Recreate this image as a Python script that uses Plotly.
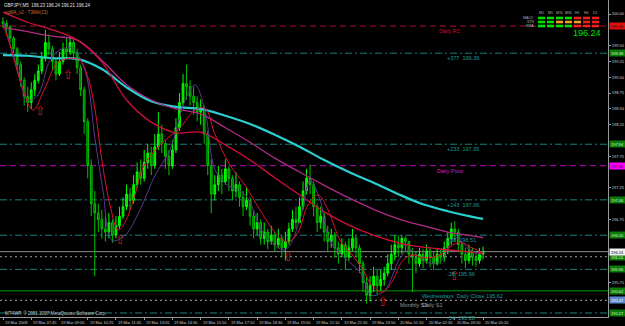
import plotly.graph_objects as go

# ---------------- data ----------------
header_text = "GBPJPY,M5  196.23 196.24 196.21 196.24"
indicator_text = "sqMA_v2 - T3MA(13)"
copyright_text = "MT4WP, \u00a9 2001-2007 MetaQuotes Software Corp."
last_price = 196.24

first_open = 199.88
closes = [199.85, 199.80, 199.62, 199.45, 199.20, 198.95, 198.70, 198.60, 198.80, 198.95,
          199.10, 199.30, 199.55, 199.45, 199.25, 199.05, 199.25, 199.45, 199.40, 199.55,
          199.38, 199.15, 198.80, 198.30, 197.60, 197.00, 196.85, 196.75, 196.60, 196.55,
          196.70, 196.50, 196.65, 196.80, 196.95, 197.15, 197.05, 197.30, 197.50, 197.40,
          197.65, 197.80, 197.60, 197.90, 198.10, 197.95, 197.75, 197.60, 197.85, 198.20,
          198.60, 198.90, 198.85, 198.70, 198.60, 198.45, 198.50, 198.10, 197.60, 197.15,
          197.30, 197.45, 197.35, 197.55, 197.40, 197.20, 197.30, 197.10, 196.95, 197.05,
          196.80, 196.60, 196.70, 196.45, 196.55, 196.40, 196.50, 196.35, 196.45, 196.30,
          196.40, 196.60, 196.75, 196.70, 196.95, 197.20, 197.40, 197.30, 196.95, 196.70,
          196.80, 196.55, 196.40, 196.50, 196.30, 196.20, 196.35, 196.15, 196.30, 196.45,
          196.30, 196.05, 195.75, 195.55, 195.70, 195.85, 195.70, 195.80, 195.90, 196.05,
          196.20, 196.35, 196.30, 196.45, 196.40, 196.20, 196.15, 196.05, 196.20, 196.10,
          196.25, 196.15, 196.05, 196.20, 196.15, 196.30, 196.45, 196.60, 196.55, 196.35,
          196.20, 196.10, 196.25, 196.15, 196.10, 196.20, 196.24]
highs = [199.95, 199.90, 199.82, 199.65, 199.48, 199.25, 199.00, 198.85, 198.92, 199.05,
         199.20, 199.40, 199.75, 199.68, 199.50, 199.30, 199.40, 199.55, 199.62, 199.65,
         199.60, 199.45, 199.20, 198.85, 198.35, 197.70, 197.20, 197.00, 196.90, 196.80,
         196.85, 196.75, 196.80, 196.95, 197.10, 197.30, 197.25, 197.45, 197.65, 197.70,
         197.85, 197.95, 197.90, 198.10, 198.45, 198.25, 198.00, 197.85, 198.00, 198.35,
         198.75, 199.05, 199.20, 198.95, 198.85, 198.70, 198.65, 198.55, 198.15, 197.70,
         197.45, 197.60, 197.55, 197.70, 197.60, 197.45, 197.50, 197.35, 197.20, 197.25,
         197.10, 196.90, 196.85, 196.75, 196.70, 196.60, 196.65, 196.55, 196.60, 196.50,
         196.55, 196.70, 196.90, 196.95, 197.10, 197.35, 197.55, 197.62, 197.35, 197.00,
         196.95, 196.85, 196.65, 196.60, 196.55, 196.40, 196.45, 196.40, 196.45, 196.60,
         196.50, 196.35, 196.10, 195.85, 195.85, 196.00, 195.95, 195.95, 196.00, 196.20,
         196.35, 196.50, 196.50, 196.50, 196.48, 196.40, 196.30, 196.25, 196.30, 196.28,
         196.35, 196.30, 196.25, 196.30, 196.28, 196.40, 196.55, 196.70, 196.72, 196.60,
         196.40, 196.30, 196.35, 196.30, 196.25, 196.30, 196.32]
lows = [199.78, 199.70, 199.55, 199.38, 199.12, 198.85, 198.55, 198.45, 198.50, 198.70,
        198.90, 199.05, 199.25, 199.35, 199.10, 198.95, 199.02, 199.20, 199.30, 199.35,
        199.28, 199.05, 198.70, 198.10, 197.40, 196.80, 195.85, 196.55, 196.45, 196.40,
        196.45, 196.38, 196.45, 196.60, 196.75, 196.90, 196.90, 197.00, 197.25, 197.30,
        197.35, 197.55, 197.45, 197.55, 197.85, 197.80, 197.55, 197.45, 197.55, 197.80,
        198.15, 198.55, 198.65, 198.55, 198.40, 198.30, 198.25, 197.95, 197.45, 196.85,
        197.05, 197.20, 197.15, 197.30, 197.20, 197.05, 197.10, 196.95, 196.80, 196.90,
        196.65, 196.45, 196.50, 196.35, 196.35, 196.28, 196.35, 196.25, 196.30, 196.15,
        196.10, 196.35, 196.55, 196.60, 196.70, 196.90, 197.15, 197.15, 196.80, 196.55,
        196.60, 196.40, 196.25, 196.30, 196.15, 196.05, 196.15, 195.95, 196.10, 196.25,
        196.15, 195.90, 195.60, 195.42, 195.45, 195.60, 195.55, 195.62, 195.70, 195.85,
        195.95, 196.10, 196.15, 196.20, 196.25, 196.05, 195.60, 195.90, 196.00, 195.98,
        196.05, 196.00, 195.95, 196.02, 196.05, 196.08, 196.20, 196.35, 196.40, 196.25,
        196.05, 195.98, 196.05, 196.02, 196.00, 196.05, 196.12]
opens = [first_open] + closes[:-1]
bars = list(range(len(closes)))

time_labels = ["19 Mar 2008", "19 Mar 07:45", "19 Mar 09:05", "19 Mar 10:25", "19 Mar 11:45",
               "19 Mar 13:05", "19 Mar 14:30", "19 Mar 15:50", "19 Mar 17:10", "19 Mar 18:30",
               "19 Mar 19:50", "19 Mar 21:10", "19 Mar 22:30", "19 Mar 23:50", "20 Mar 01:10",
               "20 Mar 02:30", "20 Mar 03:50", "20 Mar 05:10"]
time_label_bars = [0, 8, 16, 24, 32, 40, 48, 56, 64, 72, 80, 88, 96, 104, 112, 120, 128, 136]
price_ticks = [200.00, 199.75, 199.50, 199.25, 199.00, 198.75, 198.50, 198.25, 198.00, 197.75,
               197.50, 197.25, 197.00, 196.75, 196.50, 196.25, 196.00, 195.75, 195.50]

# moving averages read at sample bars
ma_bars = [0, 7, 14, 21, 28, 35, 42, 49, 56, 63, 70, 77, 84, 91, 98, 105, 112, 119, 126, 133, 136]
ma_cyan = [199.35, 199.34, 199.30, 199.29, 199.13, 198.84, 198.62, 198.53, 198.50, 198.39, 198.26,
           198.09, 197.90, 197.69, 197.50, 197.33, 197.15, 196.99, 196.88, 196.79, 196.76]
ma_magenta = [199.79, 199.72, 199.65, 199.59, 199.27, 198.88, 198.64, 198.50, 198.42, 198.20, 197.97,
              197.72, 197.50, 197.29, 197.09, 196.91, 196.76, 196.65, 196.55, 196.49, 196.46]
ma_crimson = [200.03, 199.87, 199.75, 199.59, 199.24, 198.64, 198.29, 198.12, 198.13, 197.93, 197.69,
              197.41, 197.14, 196.87, 196.66, 196.50, 196.38, 196.31, 196.27, 196.23, 196.22]

t3_bars = [0, 2, 4.8, 8.5, 11.9, 15.3, 19, 21.8, 24.1, 26.1, 28, 30.3, 32.6, 34.6, 37.4, 39.7,
           44.5, 50.1, 54.4, 57.2, 60.1, 64.3, 68.6, 72.8, 77, 80.7, 83.6, 86.4, 89.2, 92.1,
           95.5, 98.9, 101.7, 104.5, 107.4, 110.2, 113, 115.9, 119.5, 123.8, 127.2, 130, 132.9, 136]
t3_vals = [199.83, 199.51, 198.96, 198.48, 198.83, 199.22, 199.30, 199.27, 198.99, 198.48, 197.69,
           196.98, 196.58, 196.71, 197.14, 197.58, 197.93, 198.20, 198.48, 198.51, 198.09, 197.61,
           197.29, 196.90, 196.55, 196.39, 196.55, 196.98, 197.14, 196.90, 196.42, 196.19, 195.98,
           195.71, 195.60, 195.76, 196.08, 196.19, 196.14, 196.19, 196.34, 196.38, 196.30, 196.22]

fast_bars = [0, 3.4, 7.1, 9.9, 13.3, 16.1, 19.5, 23.2, 26.1, 28.3, 30.9, 34.6, 38.8, 43.1, 47.3,
             51.6, 54.4, 57.2, 60.1, 63.7, 68.6, 74.2, 79.9, 84.1, 87, 89.8, 92.6, 96.9, 101.1,
             104.5, 108.2, 112.5, 115.3, 119.5, 123.8, 128, 132.3, 136]
fast_vals = [199.91, 199.27, 198.64, 198.72, 199.27, 199.43, 199.46, 199.11, 198.01, 197.22, 196.42,
             196.50, 196.90, 197.45, 197.85, 198.64, 198.88, 198.48, 197.53, 197.29, 197.14, 196.50,
             196.27, 196.74, 197.37, 197.06, 196.42, 196.14, 195.92, 195.55, 195.63, 196.14, 196.27,
             196.08, 196.08, 196.46, 196.27, 196.19]

arrow_bars = [10.5, 18.4, 33.1, 80.7, 107.6, 127.8]
arrow_prices = [198.45, 199.03, 196.42, 196.14, 195.43, 195.84]

level_prices = [199.81, 199.38, 197.94, 197.60, 197.06, 196.50, 196.16, 195.96, 195.62, 195.47, 195.27]
level_kinds = ["r1", "fibo", "fibo", "pivot", "fibo", "fibo", "dot", "fibo", "close", "dots3", "fibo"]
level_texts = ["Daily R1", "+377  199.39", "+233  197.95", "Daily Pivot", "+143  197.06",
               "+58  196.51", "", "-28  195.96", "Wednesdays  Daily Close 195.62", "Monthly S3",
               "-34  195.28"]
extra_level_text = "Daily S1"

tf_names = ["M1", "M5", "M15", "M30", "H1", "H4", "D1"]
sig_names = ["MACD", "STR", "EMA"]
sig_states = [["up", "up", "up", "up", "dn", "dn", "dn"],
              ["up", "up", "fl", "fl", "fl", "dn", "dn"],
              ["up", "up", "up", "up", "dn", "dn", "dn"]]

# ---------------- styles ----------------
PLOT_W, PLOT_H = 608, 317
FONT = "Liberation Sans"
state_col = {"up": "#00e000", "fl": "#f0a020", "dn": "#f02020"}
lvl_style = {
    "r1": dict(color="#b01034", dash="6px,4px", width=1, txt="#c8103a", box="#e01010", boxtxt="#300000"),
    "fibo": dict(color="#1a7f7f", dash="7px,3px,2px,3px", width=1, txt="#1f9a9a", box="#0a7a0a", boxtxt="#d0ffd0"),
    "pivot": dict(color="#c000c0", dash="6px,4px", width=1, txt="#d020c8", box="#ff00ff", boxtxt="#400040"),
    "dot": dict(color="#9a9a9a", dash="2px,3px", width=1, txt="#a0a0a0", box="#0a7a0a", boxtxt="#d0ffd0"),
    "close": dict(color="#00a000", dash="solid", width=1, txt="#1f9a9a", box="#0a7a0a", boxtxt="#d0ffd0"),
    "dots3": dict(color="#a8a8a8", dash="2px,3px", width=1, txt="#9a9a9a", box="#5a8ad0", boxtxt="#ffffff"),
}
lvl_text_bar = {"r1": 123.0, "fibo": 125.3, "pivot": 122.3, "dot": 125.0, "close": 118.2, "dots3": 111.8}


def px_x(px):
    return px / PLOT_W


def px_y(py):
    return 1 - py / PLOT_H


fig = go.Figure()

# levels
shapes = []
annotations = []
box_prices = []
for p, k, t in zip(level_prices, level_kinds, level_texts):
    st = lvl_style[k]
    shapes.append(dict(type="line", xref="paper", x0=0, x1=1, yref="y", y0=p, y1=p,
                       line=dict(color=st["color"], width=st["width"], dash=st["dash"]), layer="below"))
    if t:
        annotations.append(dict(x=lvl_text_bar[k], y=p, xref="x", yref="y", text=t, showarrow=False,
                                xanchor="left", yanchor="top", yshift=0,
                                font=dict(size=5.5, color=st["txt"], family=FONT)))
    annotations.append(dict(x=1, y=p, xref="paper", yref="y", text=f"{p:.2f}", showarrow=False,
                            xanchor="left", yanchor="middle", xshift=1, width=15, height=6,
                            bgcolor=st["box"], borderpad=0,
                            font=dict(size=4, color=st["boxtxt"], family=FONT)))
    box_prices.append(p)
annotations.append(dict(x=118.2, y=level_prices[9], xref="x", yref="y", text=extra_level_text,
                        showarrow=False, xanchor="left", yanchor="top",
                        font=dict(size=5.5, color="#9a9a9a", family=FONT)))
# bid line
shapes.append(dict(type="line", xref="paper", x0=0, x1=1, yref="y", y0=last_price, y1=last_price,
                   line=dict(color="#8a8a8a", width=1), layer="below"))
annotations.append(dict(x=1, y=last_price, xref="paper", yref="y", text=f"{last_price:.2f}",
                        showarrow=False, xanchor="left", yanchor="middle", xshift=1, width=15, height=6,
                        bgcolor="#f0f0f0", borderpad=0, font=dict(size=4, color="#000000", family=FONT)))
box_prices.append(last_price)

# tick labels hidden behind price boxes (as in the terminal)
shown_ticks = [t for t in price_ticks if all(abs(t - b) > 0.1 for b in box_prices)]

# time labels (left-aligned after their tick, as in the terminal)
for b, lab in zip(time_label_bars, time_labels):
    annotations.append(dict(x=b, y=0, xref="x", yref="paper", text=lab, showarrow=False,
                            xanchor="left", yanchor="top", xshift=0, yshift=-1,
                            font=dict(size=4, color="#d0d0d0", family=FONT)))

# candles
fig.add_trace(go.Candlestick(
    x=bars, open=opens, high=highs, low=lows, close=closes,
    increasing=dict(line=dict(color="#00ff00", width=1), fillcolor="#00e000"),
    decreasing=dict(line=dict(color="#00c000", width=1), fillcolor="#006a00"),
    whiskerwidth=0, hoverinfo="skip"))

# indicator lines
fig.add_trace(go.Scatter(x=ma_bars, y=ma_cyan, mode="lines", line=dict(color="#2ad0d0", width=2.2, shape="spline")))
fig.add_trace(go.Scatter(x=ma_bars, y=ma_magenta, mode="lines", line=dict(color="#b02a88", width=1.3, shape="spline")))
fig.add_trace(go.Scatter(x=ma_bars, y=ma_crimson, mode="lines", line=dict(color="#d0103a", width=1.3, shape="spline")))
fig.add_trace(go.Scatter(x=fast_bars, y=fast_vals, mode="lines", line=dict(color="#5a3a8c", width=1, shape="spline")))
fig.add_trace(go.Scatter(x=t3_bars, y=t3_vals, mode="lines", line=dict(color="#e01030", width=1, shape="spline")))

# arrows
fig.add_trace(go.Scatter(x=arrow_bars, y=arrow_prices, mode="text", text=["\u21e7"] * len(arrow_bars),
                         textposition="middle center",
                         textfont=dict(size=13, color="#d01818", family="DejaVu Sans")))

# header texts
annotations.append(dict(x=px_x(2), y=px_y(5), xref="paper", yref="paper", text=header_text, showarrow=False,
                        xanchor="left", yanchor="middle", font=dict(size=4.5, color="#e0e0e0", family=FONT)))
annotations.append(dict(x=px_x(3), y=px_y(13), xref="paper", yref="paper", text=indicator_text, showarrow=False,
                        xanchor="left", yanchor="middle", font=dict(size=4.5, color="#d06a30", family=FONT)))
annotations.append(dict(x=px_x(3), y=px_y(313), xref="paper", yref="paper", text=copyright_text, showarrow=False,
                        xanchor="left", yanchor="middle", font=dict(size=4.5, color="#c8c8c8", family=FONT)))
annotations.append(dict(x=px_x(587), y=px_y(33), xref="paper", yref="paper", text=f"{last_price:.2f}",
                        showarrow=False, xanchor="center", yanchor="middle",
                        font=dict(size=9, color="#00e000", family=FONT)))

# signal panel
col_left = [538, 547, 556, 565, 574, 583, 592]
row_y = [18, 22, 26]
for ci, name in enumerate(tf_names):
    annotations.append(dict(x=px_x(col_left[ci] + 3.5), y=px_y(13.5), xref="paper", yref="paper", text=name,
                            showarrow=False, xanchor="center", yanchor="middle",
                            font=dict(size=3.5, color="#b0b0b0", family=FONT)))
for ri, name in enumerate(sig_names):
    annotations.append(dict(x=px_x(536), y=px_y(row_y[ri]), xref="paper", yref="paper", text=name,
                            showarrow=False, xanchor="right", yanchor="middle",
                            font=dict(size=3.5, color="#b0b0b0", family=FONT)))
    for ci, stt in enumerate(sig_states[ri]):
        shapes.append(dict(type="rect", xref="paper", yref="paper",
                           x0=px_x(col_left[ci]), x1=px_x(col_left[ci] + 7),
                           y0=px_y(row_y[ri] + 1.3), y1=px_y(row_y[ri] - 1.3),
                           fillcolor=state_col[stt], line=dict(width=0)))

fig.update_layout(
    width=625, height=326, margin=dict(l=0, r=17, t=0, b=9, autoexpand=False),
    paper_bgcolor="#000000", plot_bgcolor="#000000", showlegend=False,
    shapes=shapes, annotations=annotations,
    xaxis=dict(range=[-0.85, 171.4], showgrid=False, zeroline=False, showline=True, linecolor="#9a9a9a",
               tickvals=time_label_bars, showticklabels=False,
               ticks="outside", ticklen=2, tickcolor="#9a9a9a",
               rangeslider=dict(visible=False), fixedrange=True),
    yaxis=dict(side="right", range=[195.206, 200.222], tickvals=shown_ticks,
               ticktext=[f"{p:.2f}" for p in shown_ticks], ticks="outside", ticklen=2,
               tickcolor="#9a9a9a", showgrid=False, zeroline=False, showline=True, linecolor="#9a9a9a",
               tickfont=dict(size=4, color="#d0d0d0", family=FONT), fixedrange=True),
)

fig.write_html("out.html")
